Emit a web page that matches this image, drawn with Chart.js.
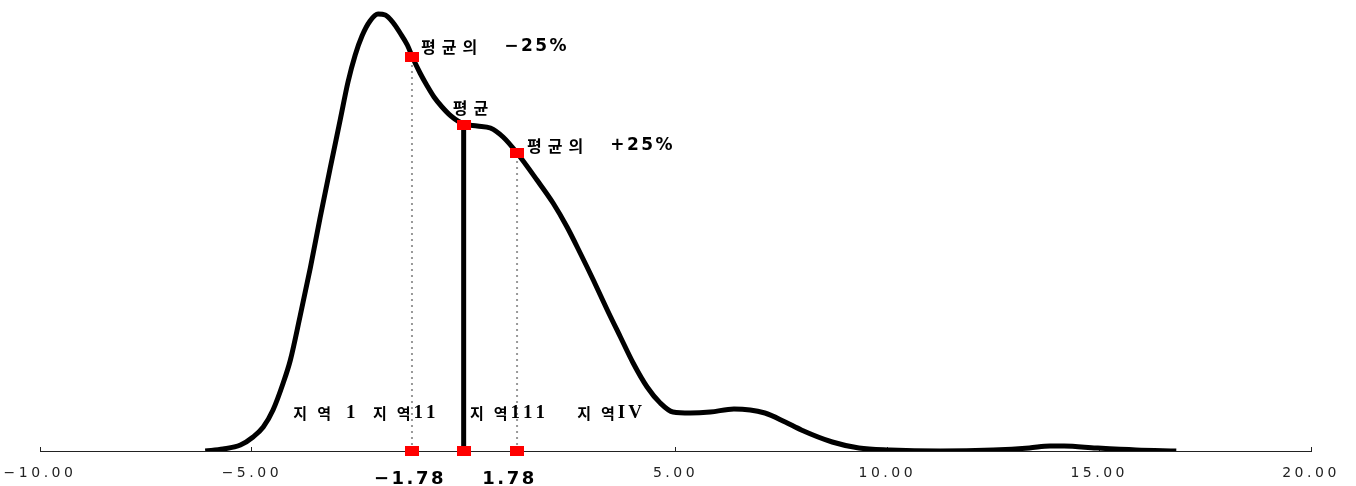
<!DOCTYPE html>
<html>
<head>
<meta charset="utf-8">
<script src="https://cdn.jsdelivr.net/npm/chart.js@4/dist/chart.umd.min.js"></script>
<style>
  html, body { margin: 0; padding: 0; background: #fff; }
  canvas { display: block; }
</style>
</head>
<body>
<canvas id="chart" width="1356" height="486"></canvas>
<script>
  // density curve
  const curveX = [-6.10, -5.68, -5.27, -4.97, -4.73, -4.50, -4.26, -4.09, -3.86, -3.62, -3.39, -3.15, -2.91, -2.73, -2.56, -2.40,
    -2.21, -2.02, -1.85, -1.66, -1.50, -1.33, -1.20, -1.03, -0.86, -0.70, -0.51, -0.30, 0.00, 0.32, 0.63,
    0.93, 1.26, 1.73, 2.11, 2.44, 2.75, 3.06, 3.39, 3.70, 4.00, 4.33, 4.64, 4.94, 5.35, 5.82, 6.38, 7.11, 7.59, 7.97, 8.70,
    9.33, 10.06, 11.25, 12.50, 13.35, 13.84, 14.17, 14.93, 15.87, 16.82];
  const curveY = [0, 0.001, 0.003, 0.007, 0.012, 0.0205, 0.034, 0.0455, 0.0675, 0.0915, 0.1165, 0.1415, 0.166, 0.1845, 0.198, 0.2075,
    0.215, 0.2185, 0.218, 0.214, 0.209, 0.203, 0.1965, 0.189, 0.1825, 0.177, 0.172, 0.1675, 0.1635, 0.1625, 0.1615,
    0.157, 0.149, 0.1355, 0.124, 0.112, 0.099, 0.0855, 0.0705, 0.057, 0.044, 0.032, 0.024, 0.0195, 0.019, 0.0195, 0.021, 0.019, 0.0145, 0.0105, 0.0045,
    0.0015, 0.0005, 0, 0.0005, 0.0015, 0.0025, 0.0025, 0.0015, 0.0005, 0];

  // -25%, mean, +25% markers
  const markX = [-1.22, 0, 1.26];
  const markY = [0.197, 0.163, 0.149];
  const markLabels = ['평균의 −25%', '평균', '평균의 +25%'];
  const baseLabels = ['−1.78', '', '1.78'];

  const regionLabels = ['지역 1', '지역11', '지역111', '지역IV'];
  const regionX = [-4.02, -2.14, 0.15, 2.68];

  const tickValues = [-10, -5, 0, 5, 10, 15, 20];
  const tickLabels = ['−10.00', '−5.00', '', '5.00', '10.00', '15.00', '20.00'];

  // red rectangle used as point marker
  function redBox() {
    const c = document.createElement('canvas');
    c.width = 14; c.height = 10;
    const g = c.getContext('2d');
    g.fillStyle = '#ff0000';
    g.fillRect(0, 0, 14, 10);
    return c;
  }
  const box = redBox();

  const topMarks = markX.map((v, i) => ({ x: v, y: markY[i] }));
  const baseMarks = markX.map(v => ({ x: v, y: 0 }));
  const curve = curveX.map((v, i) => ({ x: v, y: curveY[i] }));

  // hangul and latin parts get their own font and spacing
  function drawRich(ctx, text, x, y, st) {
    let cx = x, prevH = false;
    for (const ch of text) {
      const isH = /[\uac00-\ud7a3]/.test(ch);
      if (prevH && !isH) cx += st.tGap - st.hGap;
      if (ch === ' ') { cx += st.space; prevH = false; continue; }
      ctx.font = isH ? st.hFont : st.nFont;
      ctx.fillText(ch, cx, y);
      cx += ctx.measureText(ch).width + (isH ? st.hGap : st.nGap);
      prevH = isH;
    }
  }

  const markStyle = { hFont: 'bold 16px "Noto Sans CJK KR"', nFont: 'bold 17px "DejaVu Sans"', hGap: 6, nGap: 2.5, tGap: 6, space: 21 };
  const regionStyle = { hFont: 'bold 15px "Noto Sans CJK KR"', nFont: 'bold 19px "Liberation Serif"', hGap: 10, nGap: 3, tGap: 3, space: 12 };

  const annotate = {
    id: 'annotate',
    beforeDraw(chart) { chart.ctx.letterSpacing = '3.5px'; },
    afterDatasetsDraw(chart) {
      const { ctx, scales: { x, y } } = chart;
      ctx.save();
      ctx.letterSpacing = '0px';
      ctx.fillStyle = '#000';
      ctx.textBaseline = 'middle';
      ctx.textAlign = 'left';
      const off = [[9, -10.5], [-11, -17.5], [10, -7.5]];
      markLabels.forEach((t, i) => {
        drawRich(ctx, t, x.getPixelForValue(markX[i]) + off[i][0], y.getPixelForValue(markY[i]) + off[i][1], markStyle);
      });

      regionLabels.forEach((t, i) => {
        drawRich(ctx, t, x.getPixelForValue(regionX[i]), y.getPixelForValue(0) - 37.5, regionStyle);
      });

      ctx.font = 'bold 18px "DejaVu Sans"';
      ctx.letterSpacing = '2.5px';
      ctx.textAlign = 'center';
      const dx = [-2, 0, -7.5];
      baseLabels.forEach((t, i) => {
        if (!t) return;
        ctx.fillText(t, x.getPixelForValue(markX[i]) + dx[i], y.getPixelForValue(0) + 28);
      });
      ctx.restore();
    },
    afterDraw(chart) { chart.ctx.letterSpacing = '0px'; }
  };

  new Chart(document.getElementById('chart'), {
    type: 'scatter',
    data: {
      datasets: [
        { data: topMarks, pointStyle: box, pointRadius: 7, clip: false },
        { data: baseMarks, pointStyle: box, pointRadius: 7, clip: false },
        { data: [{ x: 0, y: 0 }, { x: 0, y: markY[1] }], showLine: true, borderColor: '#000', borderWidth: 5, pointRadius: 0 },
        { data: [{ x: markX[0], y: 0 }, { x: markX[0], y: markY[0] }], showLine: true, borderColor: '#999', borderWidth: 2, borderDash: [2, 4], pointRadius: 0 },
        { data: [{ x: markX[2], y: 0 }, { x: markX[2], y: markY[2] }], showLine: true, borderColor: '#999', borderWidth: 2, borderDash: [2, 4], pointRadius: 0 },
        { data: curve, showLine: true, borderColor: '#000', borderWidth: 5, pointRadius: 0, cubicInterpolationMode: 'monotone' }
      ]
    },
    options: {
      responsive: false,
      animation: false,
      devicePixelRatio: 1,
      layout: { padding: { left: 40, right: 45, top: 11, bottom: 0 } },
      plugins: { legend: { display: false }, tooltip: { enabled: false } },
      scales: {
        x: {
          type: 'linear',
          min: -10,
          max: 20,
          afterBuildTicks: s => { s.ticks = tickValues.map(v => ({ value: v })); },
          afterFit: s => { s.height = 35; s.paddingLeft = 0; s.paddingRight = 0; },
          border: { display: true, color: '#222', width: 1 },
          grid: { drawOnChartArea: false, drawTicks: true, tickLength: -4, color: '#222' },
          ticks: {
            padding: 18,
            color: '#222',
            font: { family: 'DejaVu Sans', size: 14 },
            maxRotation: 0,
            autoSkip: false,
            callback: v => tickLabels[tickValues.indexOf(v)] ?? ''
          }
        },
        y: { display: false, min: 0, max: 0.22 }
      }
    },
    plugins: [annotate]
  });
</script>
</body>
</html>
